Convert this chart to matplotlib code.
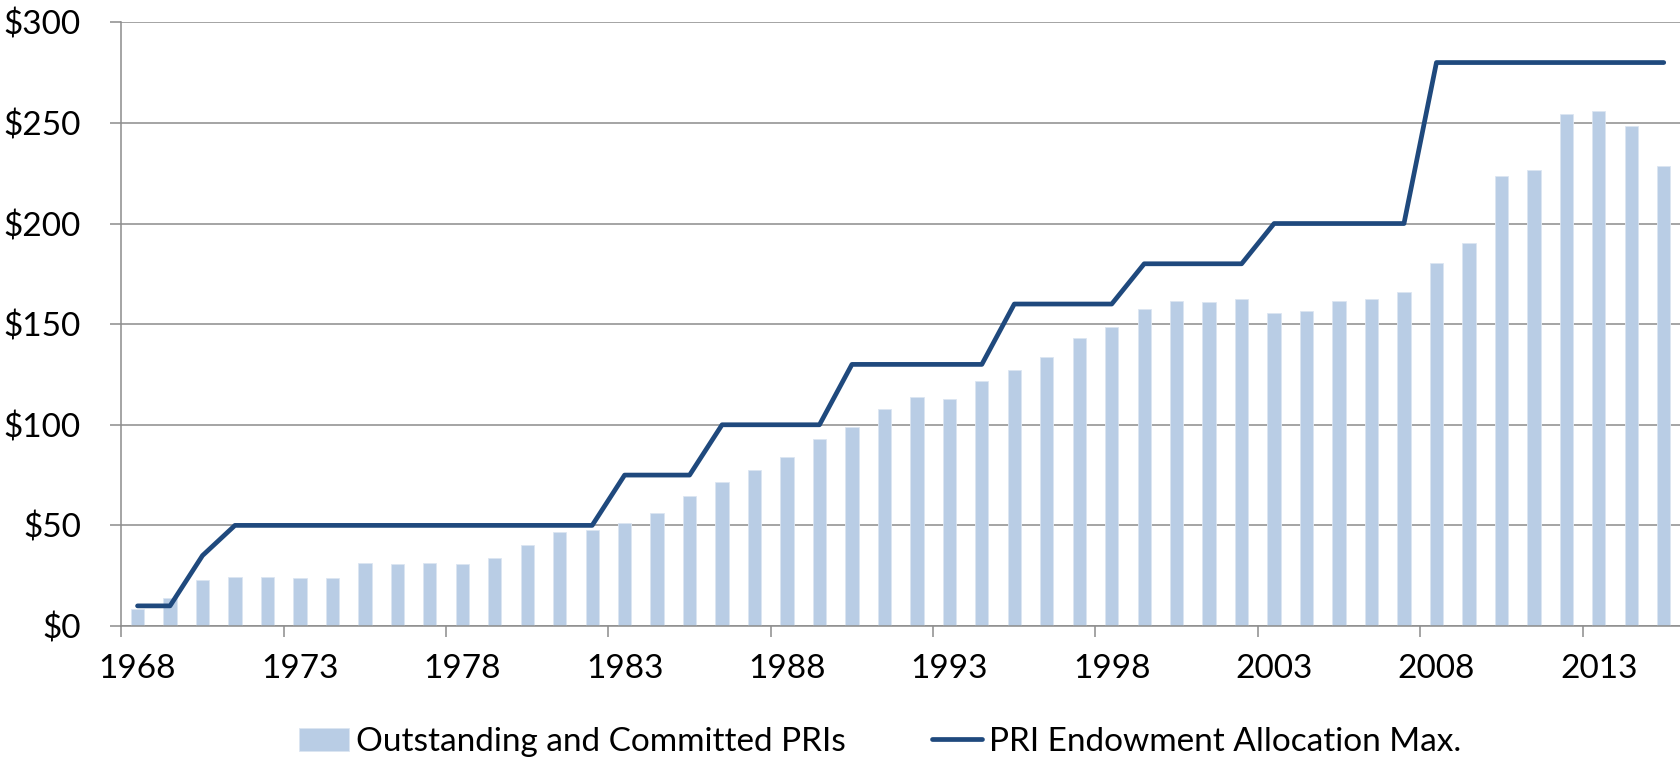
import numpy as np
import matplotlib
matplotlib.use("Agg")
import matplotlib.pyplot as plt
from matplotlib.ticker import FixedLocator

plt.rcParams['font.family'] = ['Lato', 'DejaVu Sans']

years = list(range(1968, 2016))
outstanding = [8.6, 13.9, 23.0, 24.4, 24.2, 24.0, 23.7, 31.3, 30.8, 31.1,
               31.0, 33.8, 40.1, 46.6, 47.6, 51.2, 56.2, 64.5, 71.6, 77.7,
               84.0, 92.8, 98.9, 108.0, 113.8, 112.8, 121.9, 127.2, 133.5, 143.0,
               148.5, 157.4, 161.5, 160.9, 162.7, 155.4, 156.6, 161.4, 162.4, 166.0,
               180.3, 190.5, 223.8, 226.6, 254.5, 255.8, 248.5, 228.8]
allocation_max = [10, 10, 35, 50, 50, 50, 50, 50, 50, 50,
                  50, 50, 50, 50, 50, 75, 75, 75, 100, 100,
                  100, 100, 130, 130, 130, 130, 130, 160, 160, 160,
                  160, 180, 180, 180, 180, 200, 200, 200, 200, 200,
                  280, 280, 280, 280, 280, 280, 280, 280]
label_years = [str(y) for y in years]

grey = '#8c8c8c'
fs = 24
x = np.arange(len(years))

fig = plt.figure(figsize=(16.8, 7.6), dpi=100)
ax = fig.add_axes([121.3 / 1680, 1 - 626 / 760, 1 - 121.3 / 1680, (626 - 22.3) / 760])

bars = ax.bar(x, outstanding, width=0.41, color='#B9CDE5', edgecolor='#dce6f2',
              linewidth=0.6, zorder=2, label='Outstanding and Committed PRIs')
line, = ax.plot(x, allocation_max, color='#1F497D', linewidth=3.4, zorder=3,
                solid_capstyle='round', solid_joinstyle='round',
                label='PRI Endowment Allocation Max.')

ax.set_xlim(-0.5, len(years) - 0.5)
ax.set_ylim(0, 300)
ax.set_yticks(range(0, 301, 50))
ax.set_yticklabels(['$' + str(v) for v in range(0, 301, 50)])
ax.yaxis.grid(True, color=grey, linewidth=1.1, zorder=0)
ax.set_axisbelow(True)

ax.set_xticks(x[::5])
ax.set_xticklabels(label_years[::5])
ax.xaxis.set_minor_locator(FixedLocator(np.arange(-0.5, len(years) - 1, 5)))
ax.tick_params(axis='x', which='major', length=0, pad=20, labelsize=fs)
ax.tick_params(axis='x', which='minor', length=8, width=1.1, color=grey, direction='out')
ax.tick_params(axis='y', length=8, width=1.1, color=grey, pad=21, labelsize=fs)

for side in ['top', 'right']:
    ax.spines[side].set_visible(False)
for side in ['left', 'bottom']:
    ax.spines[side].set_color(grey)
    ax.spines[side].set_linewidth(1.1)

fig.legend([bars, line], [bars.get_label(), line.get_label()],
           loc='center', bbox_to_anchor=(880 / 1680, 1 - 742 / 760),
           ncol=2, frameon=False, fontsize=fs, handlelength=1.5,
           handletextpad=0.2, columnspacing=2.6, borderaxespad=0)

fig.savefig('out.png', dpi=100)
